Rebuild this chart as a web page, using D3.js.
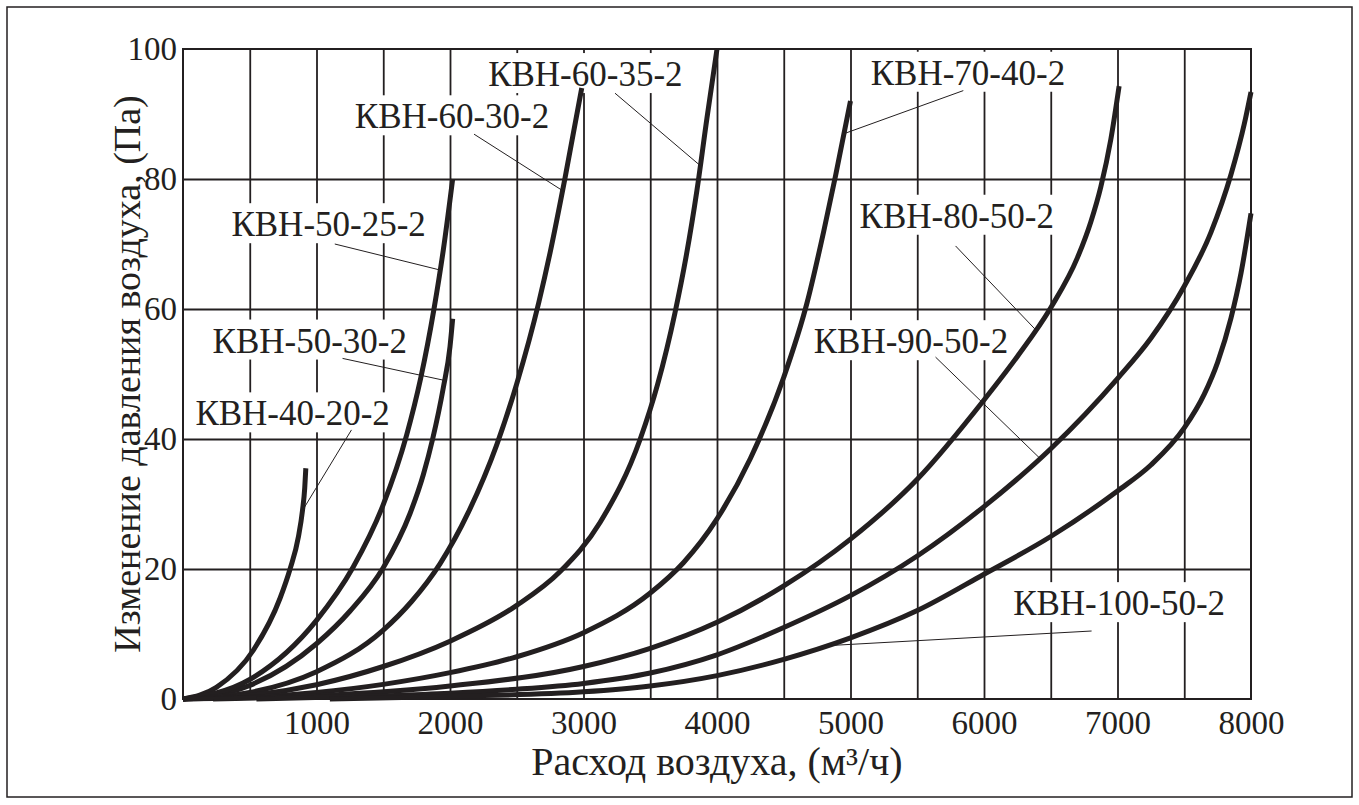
<!DOCTYPE html>
<html><head><meta charset="utf-8">
<script src="https://cdn.jsdelivr.net/npm/d3@7/dist/d3.min.js"></script>
<style>
body{margin:0;background:#fff}
svg{display:block}
svg text{font-family:"Liberation Serif","Tinos","DejaVu Serif","Noto Serif",serif !important;fill:#231f20}
</style>
</head><body>
<svg id="chart" width="1359" height="805"></svg>
<script>
// ---------- data ----------
const xTicks = [1000, 2000, 3000, 4000, 5000, 6000, 7000, 8000];
const yTicks = [0, 20, 40, 60, 80, 100];
const xGrid = [500, 1000, 1500, 2000, 2500, 3000, 3500, 4000, 4500, 5000, 5500, 6000, 6500, 7000, 7500];
const yGrid = [20, 40, 60, 80];
const xTitle = "Расход воздуха, (м³/ч)";
const yTitle = "Изменение давления воздуха, (Па)";

const seriesNames = ["КВН-40-20-2", "КВН-50-30-2", "КВН-50-25-2", "КВН-60-30-2", "КВН-60-35-2",
                     "КВН-70-40-2", "КВН-80-50-2", "КВН-90-50-2", "КВН-100-50-2"];
// [air flow m3/h, pressure change Pa]
const kvn40_20 = [[0,0],[250,1.8],[527,7.5],[727,15.5],[802,20],[865,25],[895,29],[912,32.5],[920,35.5]];
const kvn50_30 = [[0,0],[500,2.1],[1000,8.5],[1250,13.5],[1500,20.2],[1700,28.5],[1800,34.5],[1870,40],[1950,47.9],[2000,54.2],[2020,58.5]];
const kvn50_25 = [[0,0],[500,3],[1000,12.1],[1275,20.3],[1500,29.9],[1675,40.6],[1780,49.3],[1880,60],[1950,69.1],[2020,80]];
const kvn60_30 = [[0,0],[500,1],[1000,4.2],[1500,10.6],[1712,15],[1925,20.8],[2137,28.7],[2350,39.1],[2500,48.5],[2665,61],[2750,68.7],[2862,80.2],[2987,94]];
const kvn60_35 = [[0,0],[500,0.55],[1000,2.2],[1500,5],[2000,8.9],[2500,14.4],[2825,19.6],[3125,27.2],[3425,40],[3555,48.4],[3685,59.4],[3768,68],[3850,78.3],[3925,89.4],[4000,100]];
const kvn70_40 = [[0,0],[500,0.25],[1000,1],[1500,2.25],[2000,4.05],[2500,6.5],[3000,10.2],[3500,16.3],[3750,21],[4000,27.7],[4250,37],[4500,49.5],[4675,61],[4800,72],[4888,80.5],[5000,92]];
const kvn80_50 = [[225,0],[1000,0.5],[2000,2],[3000,5],[3500,7.8],[4000,11.8],[4500,17.4],[5000,24.6],[5500,33.8],[6000,46],[6250,52.7],[6500,60.2],[6700,67.9],[6800,73.4],[6875,78.8],[6950,86.1],[7012,94.3]];
const kvn90_50 = [[550,0],[1500,0.5],[2000,0.9],[2500,1.5],[3000,2.4],[3500,4],[4000,6.8],[4500,11],[5000,15.9],[5500,22],[6000,29.6],[6500,38.5],[7000,49.3],[7250,55.5],[7500,63.5],[7700,71.8],[7850,80.7],[7950,88.5],[8000,93.4]];
const kvn100_50 = [[1100,0],[2000,0.4],[3000,1.1],[3500,2],[4000,3.6],[4500,6.1],[5000,9.4],[5500,13.6],[6000,19.2],[6500,25],[7000,32],[7250,36],[7500,41.7],[7650,46.9],[7750,51.8],[7850,58.6],[7925,65.5],[8000,74.7]];
const seriesData = [kvn40_20, kvn50_30, kvn50_25, kvn60_30, kvn60_35, kvn70_40, kvn80_50, kvn90_50, kvn100_50];

// label anchor (centre flow, baseline pressure) and leader line ends, in data units
const labelFlow = [821, 950, 1091, 2015, 3014, 5880, 5796, 5453, 7012];
const labelPa   = [42.1, 53.3, 71.2, 87.8, 94.3, 94.5, 72.5, 53.2, 12.9];
const leaderFrom = [[1262,41.4],[1195,52.4],[1137,70],[2180,86.9],[3236,93.2],[5845,93.6],[5787,69.7],[5637,52.6],[6806,10.46]];
const leaderTo   = [[895,29],[1962,49],[1925,66],[2844,78.2],[3878,82],[4955,87],[6387,56.8],[6420,37],[4822,8.2]];

// ---------- drawing ----------
const ink = "#231f20";
const svg = d3.select("#chart");
const mLeft = 183, mRight = 1251, mTop = 49, mBottom = 699;
const x = d3.scaleLinear().domain([0, 8000]).range([mLeft, mRight]);
const y = d3.scaleLinear().domain([0, 100]).range([mBottom, mTop]);

// outer frame
svg.append("rect").attr("x", 7).attr("y", 7).attr("width", 1345).attr("height", 790)
  .attr("fill", "none").attr("stroke", ink).attr("stroke-width", 1.5);

const gGrid = svg.append("g");
const gBoxes = svg.append("g");
const gFrame = svg.append("g");
const gCurves = svg.append("g");
const gLeaders = svg.append("g");
const gText = svg.append("g");

// grid through axes
const gx = gGrid.append("g").attr("transform", `translate(0,${mBottom})`)
  .call(d3.axisBottom(x).tickValues(xGrid).tickSize(-(mBottom - mTop)).tickFormat(""));
const gy = gGrid.append("g").attr("transform", `translate(${mLeft},0)`)
  .call(d3.axisLeft(y).tickValues(yGrid).tickSize(-(mRight - mLeft)).tickFormat(""));
[gx, gy].forEach(g => {
  g.select(".domain").remove();
  g.selectAll("line").attr("stroke", ink).attr("stroke-width", 1.8);
});
gFrame.append("rect").attr("x", mLeft).attr("y", mTop).attr("width", mRight - mLeft).attr("height", mBottom - mTop)
  .attr("fill", "none").attr("stroke", ink).attr("stroke-width", 2);

// tick labels
const ax = svg.append("g").attr("transform", `translate(0,${mBottom})`)
  .call(d3.axisBottom(x).tickValues(xTicks).tickSize(0).tickPadding(12).tickFormat(d3.format("d")));
const ay = svg.append("g").attr("transform", `translate(${mLeft},0)`)
  .call(d3.axisLeft(y).tickValues(yTicks).tickSize(0).tickPadding(6).tickFormat(d3.format("d")));
[ax, ay].forEach(g => {
  g.select(".domain").remove();
  g.attr("font-family", null).attr("font-size", null);
  g.selectAll("text").attr("font-size", 33).attr("fill", ink);
});

// axis titles
svg.append("text").attr("x", (mLeft + mRight) / 2).attr("y", 775).attr("text-anchor", "middle")
  .attr("font-size", 40).text(xTitle);
svg.append("text").attr("transform", `translate(140,${(mTop + mBottom) / 2}) rotate(-90)`)
  .attr("text-anchor", "middle").attr("font-size", 38).text(yTitle);

// curves
const line = d3.line().x(d => x(d[0])).y(d => y(d[1])).curve(d3.curveMonotoneX);
gCurves.selectAll("path").data(seriesData).join("path")
  .attr("d", line).attr("fill", "none").attr("stroke", ink).attr("stroke-width", 5);

// labels
seriesNames.forEach((name, i) => {
  const t = gText.append("text").attr("x", x(labelFlow[i])).attr("y", y(labelPa[i]))
    .attr("text-anchor", "middle").attr("font-size", 35).text(name);
  const bb = t.node().getBBox();
  gBoxes.append("rect").attr("x", bb.x - 4).attr("y", y(labelPa[i]) - 33)
    .attr("width", bb.width + 8).attr("height", 40).attr("fill", "#fff");
  gLeaders.append("line")
    .attr("x1", x(leaderFrom[i][0])).attr("y1", y(leaderFrom[i][1]))
    .attr("x2", x(leaderTo[i][0])).attr("y2", y(leaderTo[i][1]))
    .attr("stroke", ink).attr("stroke-width", 1);
});
</script>
</body></html>
